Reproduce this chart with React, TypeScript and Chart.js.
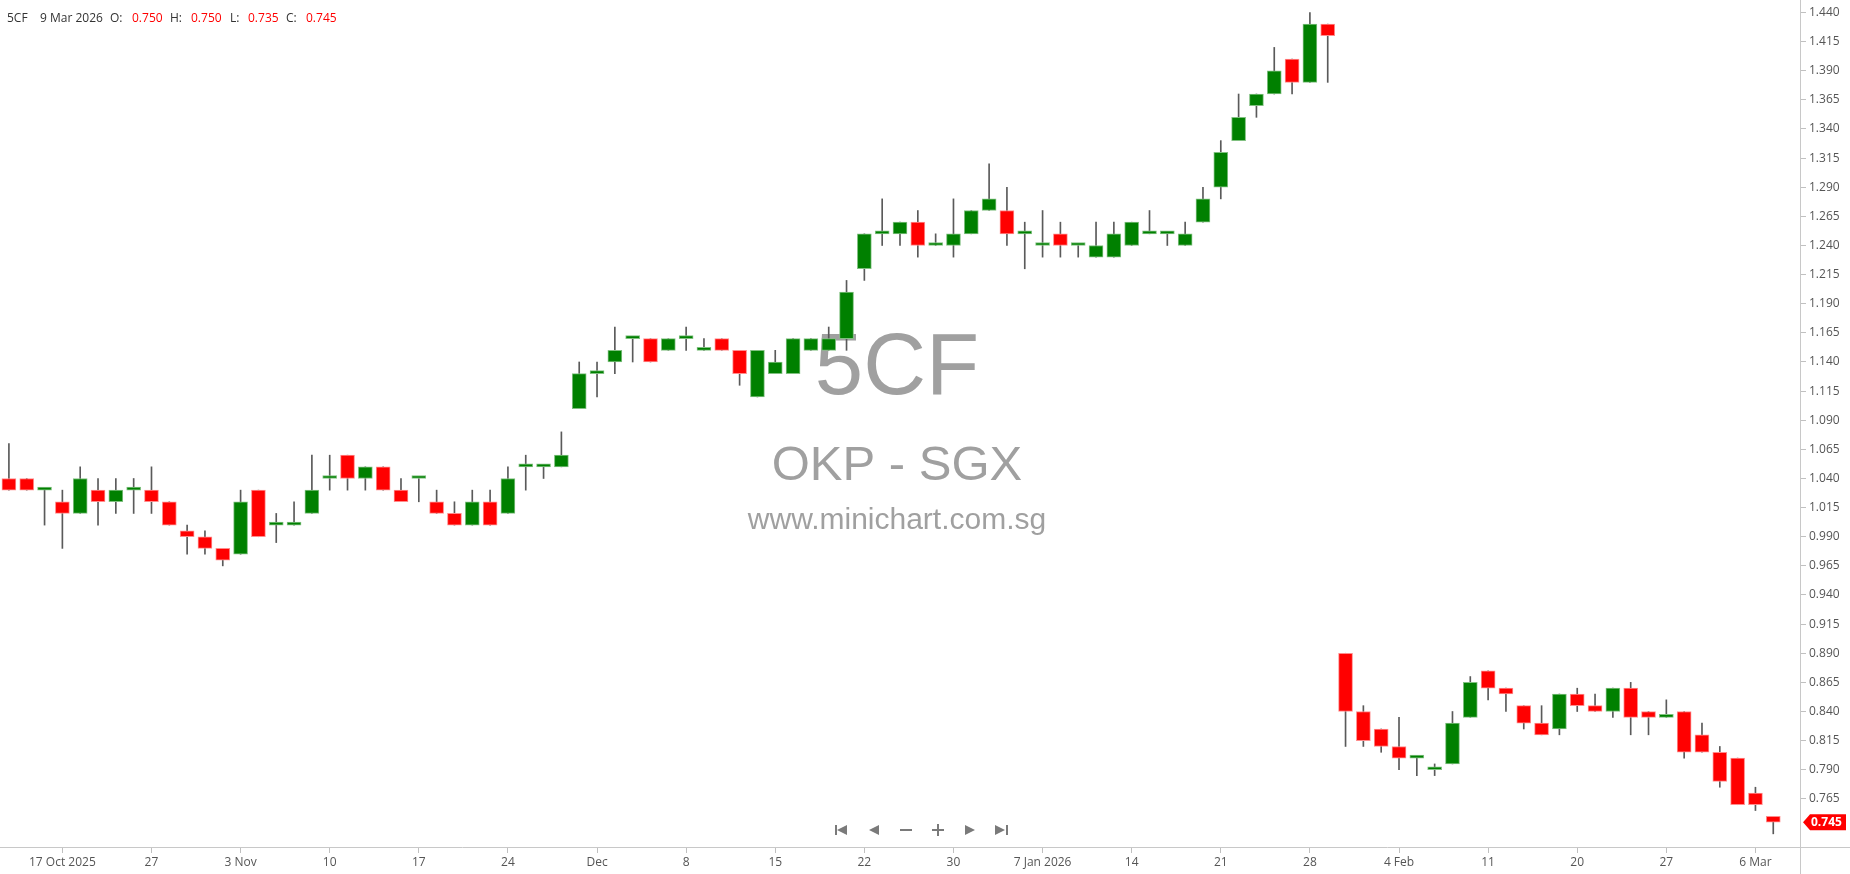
import React, { useEffect, useRef } from 'react';
import { Chart, registerables } from 'chart.js';

Chart.register(...registerables);

// ---- data ----
const symbol = '5CF';
const exchangeLine = 'OKP - SGX';
const siteLine = 'www.minichart.com.sg';

const dates = [
  '2025-10-14', '2025-10-15', '2025-10-16', '2025-10-17', '2025-10-21', '2025-10-22', '2025-10-23', '2025-10-24',
  '2025-10-27', '2025-10-28', '2025-10-29', '2025-10-30', '2025-10-31',
  '2025-11-03', '2025-11-04', '2025-11-05', '2025-11-06', '2025-11-07',
  '2025-11-10', '2025-11-11', '2025-11-12', '2025-11-13', '2025-11-14',
  '2025-11-17', '2025-11-18', '2025-11-19', '2025-11-20', '2025-11-21',
  '2025-11-24', '2025-11-25', '2025-11-26', '2025-11-27', '2025-11-28',
  '2025-12-01', '2025-12-02', '2025-12-03', '2025-12-04', '2025-12-05',
  '2025-12-08', '2025-12-09', '2025-12-10', '2025-12-11', '2025-12-12',
  '2025-12-15', '2025-12-16', '2025-12-17', '2025-12-18', '2025-12-19',
  '2025-12-22', '2025-12-23', '2025-12-24', '2025-12-26', '2025-12-29', '2025-12-30', '2025-12-31',
  '2026-01-02', '2026-01-05', '2026-01-06', '2026-01-07', '2026-01-08', '2026-01-09',
  '2026-01-12', '2026-01-13', '2026-01-14', '2026-01-15', '2026-01-16',
  '2026-01-19', '2026-01-20', '2026-01-21', '2026-01-22', '2026-01-23',
  '2026-01-26', '2026-01-27', '2026-01-28', '2026-01-29', '2026-01-30',
  '2026-02-02', '2026-02-03', '2026-02-04', '2026-02-05', '2026-02-06',
  '2026-02-09', '2026-02-10', '2026-02-11', '2026-02-12', '2026-02-13',
  '2026-02-16', '2026-02-19', '2026-02-20',
  '2026-02-23', '2026-02-24', '2026-02-25', '2026-02-26', '2026-02-27',
  '2026-03-02', '2026-03-03', '2026-03-04', '2026-03-05', '2026-03-06', '2026-03-09',
];

const opens = [
  1.040, 1.040, 1.030, 1.020, 1.010, 1.030, 1.020, 1.030,
  1.030, 1.020, 0.995, 0.990, 0.980,
  0.975, 1.030, 1.000, 1.000, 1.010,
  1.040, 1.060, 1.040, 1.050, 1.030,
  1.040, 1.020, 1.010, 1.000, 1.020,
  1.010, 1.050, 1.050, 1.050, 1.100,
  1.130, 1.140, 1.160, 1.160, 1.150,
  1.160, 1.150, 1.160, 1.150, 1.110,
  1.130, 1.130, 1.150, 1.150, 1.160,
  1.220, 1.250, 1.250, 1.260, 1.240, 1.240, 1.250,
  1.270, 1.270, 1.250, 1.240, 1.250, 1.240,
  1.230, 1.230, 1.240, 1.250, 1.250,
  1.240, 1.260, 1.290, 1.330, 1.360,
  1.370, 1.400, 1.380, 1.430, 0.890,
  0.840, 0.825, 0.810, 0.800, 0.790,
  0.795, 0.835, 0.875, 0.860, 0.845,
  0.830, 0.825, 0.855,
  0.845, 0.840, 0.860, 0.840, 0.835,
  0.840, 0.820, 0.805, 0.800, 0.770, 0.750,
];

const highs = [
  1.070, 1.040, 1.030, 1.030, 1.050, 1.040, 1.040, 1.040,
  1.050, 1.020, 1.000, 0.995, 0.980,
  1.030, 1.030, 1.010, 1.020, 1.060,
  1.060, 1.060, 1.050, 1.050, 1.040,
  1.040, 1.030, 1.020, 1.030, 1.030,
  1.050, 1.060, 1.050, 1.080, 1.140,
  1.140, 1.170, 1.160, 1.160, 1.160,
  1.170, 1.160, 1.160, 1.150, 1.150,
  1.150, 1.160, 1.160, 1.170, 1.210,
  1.250, 1.280, 1.260, 1.270, 1.250, 1.280, 1.270,
  1.310, 1.290, 1.260, 1.270, 1.260, 1.240,
  1.260, 1.260, 1.260, 1.270, 1.250,
  1.260, 1.290, 1.330, 1.370, 1.370,
  1.410, 1.400, 1.440, 1.430, 0.890,
  0.845, 0.825, 0.835, 0.800, 0.795,
  0.840, 0.870, 0.875, 0.860, 0.845,
  0.845, 0.855, 0.860,
  0.855, 0.860, 0.865, 0.840, 0.850,
  0.840, 0.830, 0.810, 0.800, 0.775, 0.750,
];

const lows = [
  1.030, 1.030, 1.000, 0.980, 1.010, 1.000, 1.010, 1.010,
  1.010, 1.000, 0.975, 0.975, 0.965,
  0.975, 0.990, 0.985, 1.000, 1.010,
  1.030, 1.030, 1.030, 1.030, 1.020,
  1.020, 1.010, 1.000, 1.000, 1.000,
  1.010, 1.030, 1.040, 1.050, 1.100,
  1.110, 1.130, 1.140, 1.140, 1.150,
  1.150, 1.150, 1.150, 1.120, 1.110,
  1.130, 1.130, 1.150, 1.150, 1.150,
  1.210, 1.240, 1.240, 1.230, 1.240, 1.230, 1.250,
  1.270, 1.240, 1.220, 1.230, 1.230, 1.230,
  1.230, 1.230, 1.240, 1.250, 1.240,
  1.240, 1.260, 1.280, 1.330, 1.350,
  1.370, 1.370, 1.380, 1.380, 0.810,
  0.810, 0.805, 0.790, 0.785, 0.785,
  0.795, 0.835, 0.850, 0.840, 0.825,
  0.820, 0.820, 0.840,
  0.840, 0.835, 0.820, 0.820, 0.835,
  0.800, 0.805, 0.775, 0.760, 0.755, 0.735,
];

const closes = [
  1.030, 1.030, 1.030, 1.010, 1.040, 1.020, 1.030, 1.030,
  1.020, 1.000, 0.990, 0.980, 0.970,
  1.020, 0.990, 1.000, 1.000, 1.030,
  1.040, 1.040, 1.050, 1.030, 1.020,
  1.040, 1.010, 1.000, 1.020, 1.000,
  1.040, 1.050, 1.050, 1.060, 1.130,
  1.130, 1.150, 1.160, 1.140, 1.160,
  1.160, 1.150, 1.150, 1.130, 1.150,
  1.140, 1.160, 1.160, 1.160, 1.200,
  1.250, 1.250, 1.260, 1.240, 1.240, 1.250, 1.270,
  1.280, 1.250, 1.250, 1.240, 1.240, 1.240,
  1.240, 1.250, 1.260, 1.250, 1.250,
  1.250, 1.280, 1.320, 1.350, 1.370,
  1.390, 1.380, 1.430, 1.420, 0.840,
  0.815, 0.810, 0.800, 0.800, 0.790,
  0.830, 0.865, 0.860, 0.855, 0.830,
  0.820, 0.855, 0.845,
  0.840, 0.860, 0.835, 0.835, 0.835,
  0.805, 0.805, 0.780, 0.760, 0.760, 0.745,
];

const xTickDates = [
  '2025-10-17', '2025-10-27', '2025-11-03', '2025-11-10', '2025-11-17', '2025-11-24', '2025-12-01',
  '2025-12-08', '2025-12-15', '2025-12-22', '2025-12-30', '2026-01-07', '2026-01-14', '2026-01-21',
  '2026-01-28', '2026-02-04', '2026-02-11', '2026-02-20', '2026-02-27', '2026-03-06',
];
const xTickLabels = [
  '17 Oct 2025', '27', '3 Nov', '10', '17', '24', 'Dec',
  '8', '15', '22', '30', '7 Jan 2026', '14', '21',
  '28', '4 Feb', '11', '20', '27', '6 Mar',
];

const yTicks = [
  0.765, 0.790, 0.815, 0.840, 0.865, 0.890, 0.915, 0.940, 0.965, 0.990,
  1.015, 1.040, 1.065, 1.090, 1.115, 1.140, 1.165, 1.190, 1.215, 1.240,
  1.265, 1.290, 1.315, 1.340, 1.365, 1.390, 1.415, 1.440,
];

const MONTHS = ['Jan', 'Feb', 'Mar', 'Apr', 'May', 'Jun', 'Jul', 'Aug', 'Sep', 'Oct', 'Nov', 'Dec'];

const UP = '#008000';
const UP_EDGE = '#80c080';
const DOWN = '#ff0000';
const DOWN_EDGE = '#ff8c8c';
const FONT = '"Open Sans", "Noto Sans", sans-serif';

function fmtDate(d: string) {
  const [y, m, day] = d.split('-').map(Number);
  return `${day} ${MONTHS[m - 1]} ${y}`;
}

export default function App() {
  const ref = useRef<HTMLCanvasElement>(null);

  useEffect(() => {
    document.body.style.margin = '0';
    const canvas = ref.current;
    if (!canvas) return;

    const n = dates.length;
    const idx = dates.map((_, i) => i);
    const isUp = idx.map((i) => closes[i] >= opens[i]);
    const bodies = idx.map((i) => ({ x: i, y: [opens[i], closes[i]] }));
    const wicks = idx.map((i) => ({ x: i, y: [lows[i], highs[i]] }));
    const xTickIdx = xTickDates.map((d) => dates.indexOf(d));

    const overlay = {
      id: 'overlay',
      beforeDatasetsDraw(chart: any) {
        const ctx = chart.ctx;
        ctx.save();
        ctx.fillStyle = '#a0a0a0';
        ctx.textAlign = 'center';
        ctx.textBaseline = 'alphabetic';
        const cx = 897;
        ctx.font = '87px "Liberation Sans", Arial, sans-serif';
        ctx.fillText(symbol, cx, 394);
        ctx.font = '49px "Liberation Sans", Arial, sans-serif';
        ctx.fillText(exchangeLine, cx, 480);
        ctx.font = '30px "Liberation Sans", Arial, sans-serif';
        ctx.fillText(siteLine, cx, 529);
        ctx.restore();
      },
      afterDraw(chart: any) {
        const ctx = chart.ctx;
        const area = chart.chartArea;
        const W = chart.width;
        const H = chart.height;
        ctx.save();
        // axis frame lines
        ctx.strokeStyle = '#c8c8c8';
        ctx.lineWidth = 1;
        ctx.beginPath();
        ctx.moveTo(Math.round(area.right) + 0.5, 0);
        ctx.lineTo(Math.round(area.right) + 0.5, H);
        ctx.moveTo(0, Math.round(area.bottom) + 0.5);
        ctx.lineTo(W, Math.round(area.bottom) + 0.5);
        ctx.stroke();

        // header
        const last = n - 1;
        ctx.font = `12px ${FONT}`;
        ctx.textAlign = 'left';
        ctx.textBaseline = 'alphabetic';
        const dark = '#333333';
        const red = '#ff0000';
        const items: [string, number, string][] = [
          [symbol, 7, dark],
          [fmtDate(dates[last]), 40, dark],
          ['O:', 110, dark],
          [opens[last].toFixed(3), 132, red],
          ['H:', 170, dark],
          [highs[last].toFixed(3), 191, red],
          ['L:', 230, dark],
          [lows[last].toFixed(3), 248, red],
          ['C:', 286, dark],
          [closes[last].toFixed(3), 306, red],
        ];
        items.forEach(([t, x, c]) => {
          ctx.fillStyle = c;
          ctx.fillText(t, x, 22);
        });

        // last price tag
        const yv = chart.scales.y.getPixelForValue(closes[last]);
        const x0 = area.right + 3;
        ctx.fillStyle = isUp[last] ? UP : DOWN;
        ctx.beginPath();
        ctx.moveTo(x0, yv);
        ctx.lineTo(x0 + 7, yv - 8);
        ctx.lineTo(W - 4, yv - 8);
        ctx.lineTo(W - 4, yv + 8);
        ctx.lineTo(x0 + 7, yv + 8);
        ctx.closePath();
        ctx.fill();
        ctx.fillStyle = '#ffffff';
        ctx.font = `bold 12px ${FONT}`;
        ctx.textBaseline = 'middle';
        ctx.fillText(closes[last].toFixed(3), x0 + 8, yv + 0.5);

        // navigation icons
        const ny = 830;
        const s = 5;
        ctx.fillStyle = '#7a7a7a';
        const triL = (cx: number) => {
          ctx.beginPath();
          ctx.moveTo(cx - s, ny);
          ctx.lineTo(cx + s, ny - s);
          ctx.lineTo(cx + s, ny + s);
          ctx.closePath();
          ctx.fill();
        };
        const triR = (cx: number) => {
          ctx.beginPath();
          ctx.moveTo(cx + s, ny);
          ctx.lineTo(cx - s, ny - s);
          ctx.lineTo(cx - s, ny + s);
          ctx.closePath();
          ctx.fill();
        };
        triL(842);
        ctx.fillRect(835, ny - s, 2, 2 * s);
        triL(874);
        ctx.fillRect(900, ny - 1, 12, 2);
        ctx.fillRect(932, ny - 1, 12, 2);
        ctx.fillRect(937, ny - 6, 2, 12);
        triR(970);
        triR(1000);
        ctx.fillRect(1006, ny - s, 2, 2 * s);
        ctx.restore();
      },
    };

    const chart = new Chart(canvas, {
      type: 'bar',
      data: {
        datasets: [
          {
            label: 'body',
            data: bodies as any,
            backgroundColor: idx.map((i) => (isUp[i] ? UP : DOWN)),
            borderColor: idx.map((i) => (isUp[i] ? UP_EDGE : DOWN_EDGE)),
            borderWidth: 1,
            borderSkipped: false,
            barThickness: 14,
            minBarLength: 3,
            grouped: false,
            order: 0,
          } as any,
          {
            label: 'wick',
            data: wicks as any,
            backgroundColor: '#5a5a5a',
            borderWidth: 0,
            barThickness: 1,
            grouped: false,
            order: 1,
          } as any,
        ],
      },
      options: {
        responsive: false,
        animation: false,
        devicePixelRatio: 1,
        layout: { padding: 0 },
        plugins: {
          legend: { display: false },
          tooltip: { enabled: false },
          title: { display: false },
        },
        scales: {
          x: {
            type: 'linear',
            min: -0.5,
            max: n + 0.5,
            offset: false,
            afterBuildTicks: (s: any) => {
              s.ticks = xTickIdx.map((v) => ({ value: v }));
            },
            afterFit: (s: any) => {
              s.height = 27;
              s.paddingLeft = 0;
              s.paddingRight = 0;
              s.paddingTop = 0;
              s.paddingBottom = 0;
            },
            grid: { offset: false, drawOnChartArea: false, drawTicks: true, tickLength: 6, color: '#c0c0c0' },
            border: { display: false },
            ticks: {
              autoSkip: false,
              maxRotation: 0,
              minRotation: 0,
              padding: 2,
              color: '#555555',
              font: { family: FONT, size: 12 },
              callback: (v: any) => {
                const k = xTickIdx.indexOf(Number(v));
                return k >= 0 ? xTickLabels[k] : '';
              },
            },
          },
          y: {
            type: 'linear',
            position: 'right',
            min: 0.7237,
            max: 1.4507,
            beginAtZero: false,
            afterBuildTicks: (s: any) => {
              s.ticks = yTicks.map((v) => ({ value: v }));
            },
            afterFit: (s: any) => {
              s.width = 50;
              s.paddingTop = 0;
              s.paddingBottom = 0;
              s.paddingLeft = 0;
              s.paddingRight = 0;
            },
            grid: { drawOnChartArea: false, drawTicks: true, tickLength: 6, color: '#c0c0c0' },
            border: { display: false },
            ticks: {
              padding: 3,
              color: '#555555',
              font: { family: FONT, size: 12 },
              callback: (v: any) => Number(v).toFixed(3),
            },
          },
        },
      },
      plugins: [overlay],
    } as any);

    return () => chart.destroy();
  }, []);

  return (
    <div style={{ width: 1850, height: 874, background: '#ffffff' }}>
      <canvas ref={ref} width={1850} height={874} style={{ display: 'block' }} />
    </div>
  );
}
